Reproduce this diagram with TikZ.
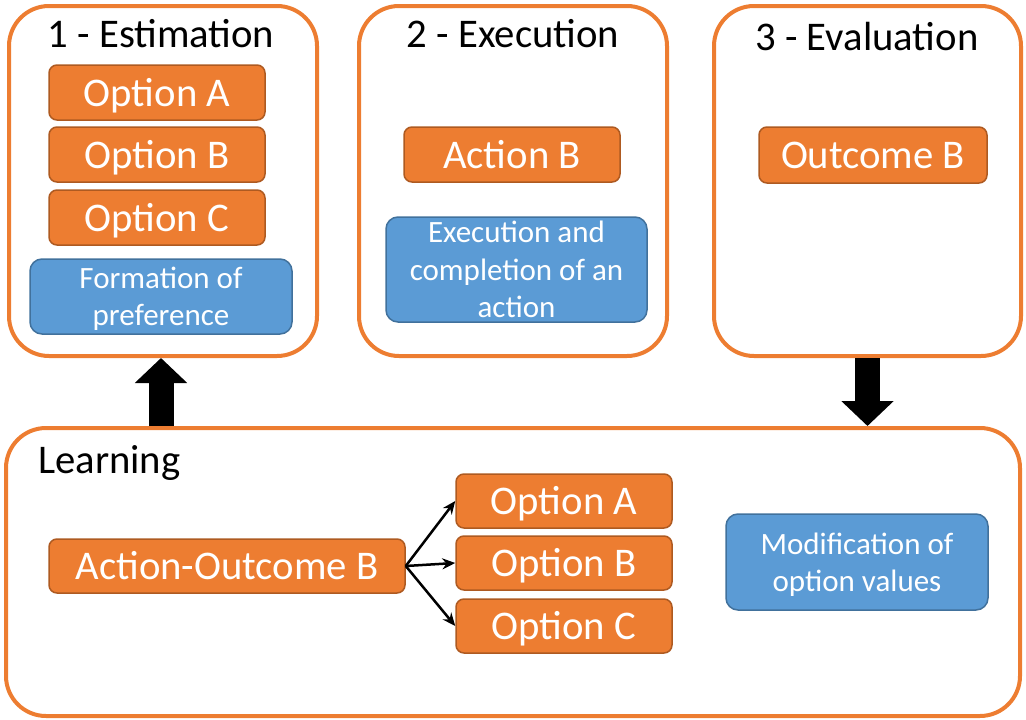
\documentclass[tikz,border=0pt]{standalone}
\usepackage{fontspec}
\setmainfont{Carlito}
\usetikzlibrary{arrows.meta}
\definecolor{panelorange}{HTML}{ED7D31}
\definecolor{boxorange}{HTML}{ED7D31}
\definecolor{boxedge}{HTML}{AE5A21}
\definecolor{boxblue}{HTML}{5B9BD5}
\definecolor{blueedge}{HTML}{41719C}

\begin{document}
\begin{tikzpicture}[x=1pt,y=-1pt,
  panel/.style={draw=panelorange,line width=4pt,rounded corners=40pt,minimum width=308pt,minimum height=350pt,inner sep=0pt},
  optbox/.style={draw=boxedge,line width=1.5pt,fill=boxorange,rounded corners=8pt,text=white,minimum width=216pt,minimum height=55pt,inner sep=0pt,text height=30pt,text depth=2.4pt,font=\fontsize{40.7}{44}\selectfont},
  notebox/.style={draw=blueedge,line width=1.5pt,fill=boxblue,rounded corners=12pt,text=white,minimum width=262pt,inner sep=0pt,align=center,text depth=0pt,font=\fontsize{31}{37.5}\selectfont},
  title/.style={inner sep=0pt,font=\fontsize{40.7}{44}\selectfont},
  bigarrow/.style={line width=25pt,-{Triangle[width=51pt,length=25pt]}},
  thinarrow/.style={line width=2.5pt,-{Stealth[length=13pt,width=11pt]}}]

  \useasboundingbox (0,0) rectangle (1026,720);

  % Panels
  \node[panel] (est) at (163,181) {};
  \node[panel] (exe) at (513,181) {};
  \node[panel,minimum width=307pt] (eva) at (867.5,181) {};
  \node[panel,minimum width=1014pt,minimum height=288pt] (learn) at (513,572) {};

  % Titles
  \node[title,anchor=base] (esttitle) at (161,47) {1 - Estimation};
  \node[title,anchor=base] (exetitle) at (513,47) {2 - Execution};
  \node[title,anchor=base] (evatitle) at (867,50) {3 - Evaluation};
  \node[title,anchor=base west] (learntitle) at (38,473) {Learning};

  % Estimation
  \node[optbox] (ea) at (157,92.5) {Option A};
  \node[optbox] (eb) at (157,154.5) {Option B};
  \node[optbox] (ec) at (157,217.5) {Option C};
  \node[notebox,minimum height=75pt] (pref) at (161,296.5) {Formation of\\preference};

  % Execution
  \node[optbox] (act) at (512,154.5) {Action B};
  \node[notebox,minimum height=105pt,minimum width=261pt] (done) at (516.5,269.5) {Execution and\\completion of an\\action};

  % Evaluation
  \node[optbox,minimum width=228pt,minimum height=56pt] (out) at (873,155) {Outcome B};

  % Learning
  \node[optbox,minimum width=356pt,minimum height=54pt] (ao) at (227,566) {Action-Outcome B};
  \node[optbox,minimum height=54pt] (la) at (564,501) {Option A};
  \node[optbox,minimum height=54pt] (lb) at (564,563) {Option B};
  \node[optbox,minimum height=54pt] (lc) at (564,626) {Option C};
  \node[notebox,minimum height=96pt] (modif) at (857,562) {Modification of\\option values};

  \begin{scope}
    \draw[thinarrow] (ao.east) to (la.west);
    \draw[thinarrow] (ao.east) to (lb.west);
    \draw[thinarrow] (ao.east) to (lc.west);
    \draw[bigarrow] ([xshift=-2pt]est.south |- learn.north) to ([xshift=-2pt]est.south);
    \draw[bigarrow] (eva.south) to (eva.south |- learn.north);
  \end{scope}

\end{tikzpicture}
\end{document}
